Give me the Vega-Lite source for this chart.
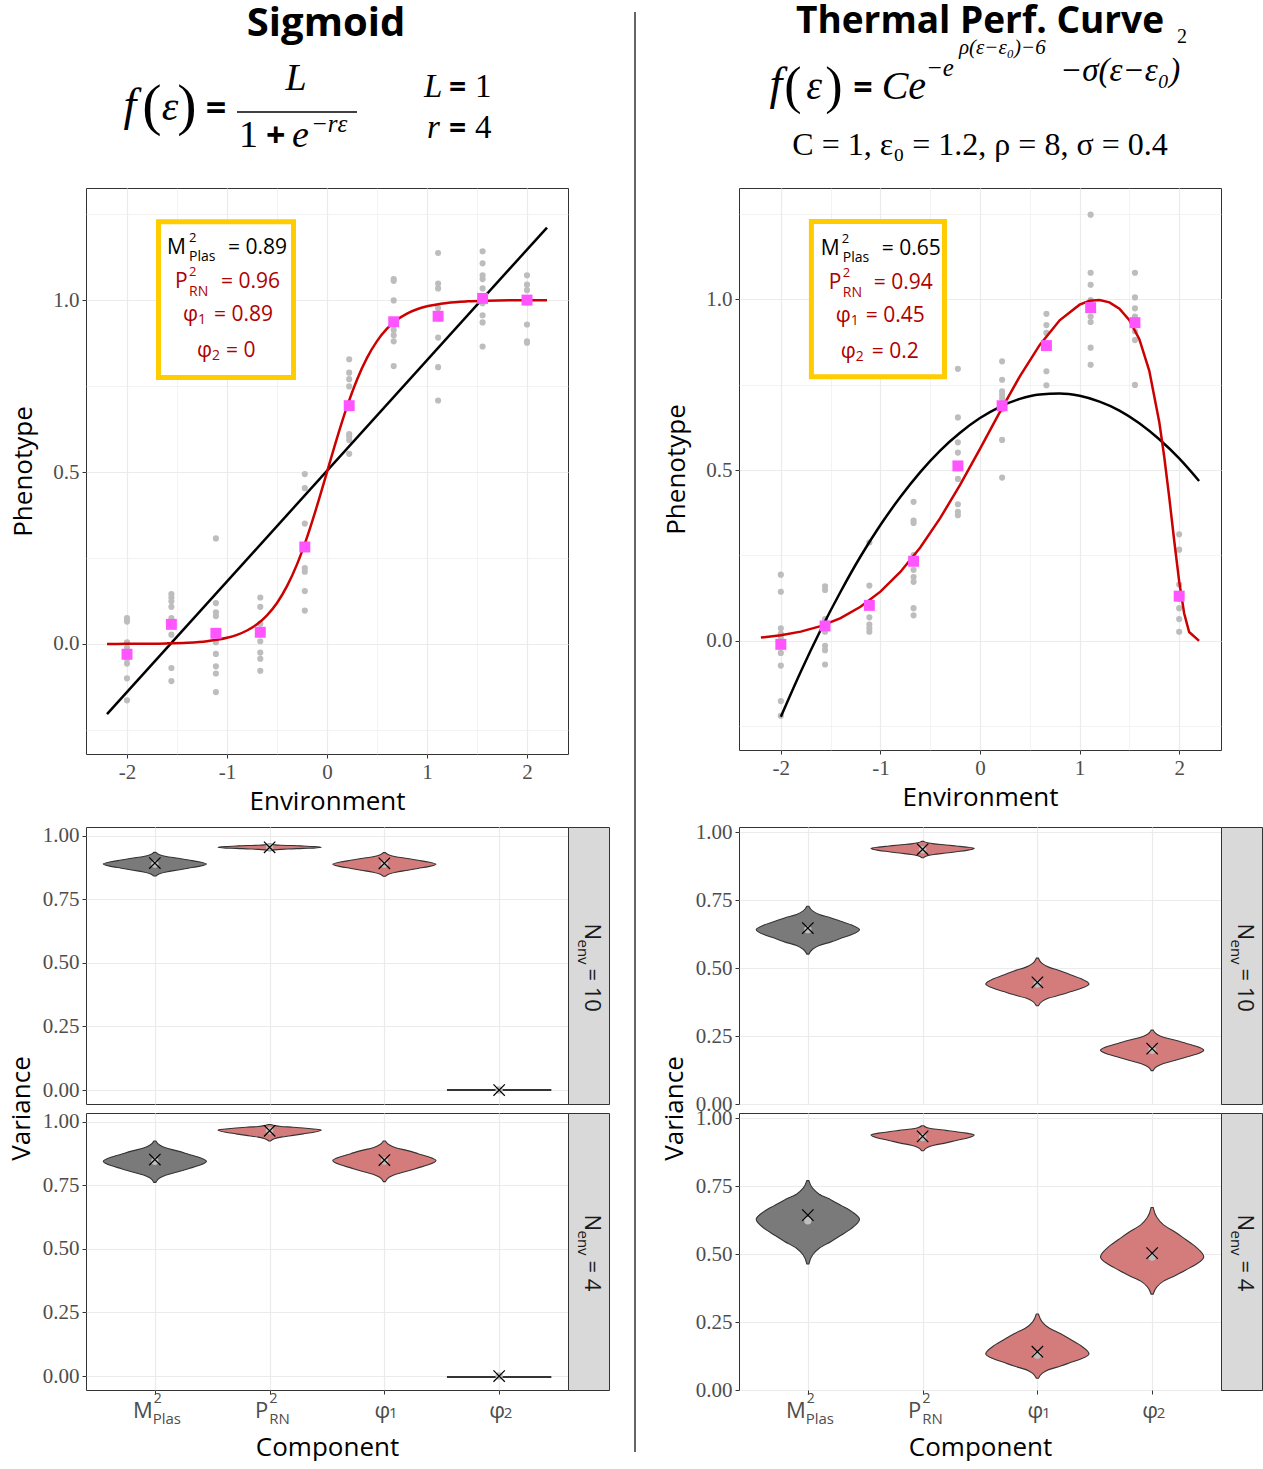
{
"$schema": "https://vega.github.io/schema/vega-lite/v6.json",
"background": "white",
"padding": {"left": 7, "top": 0, "right": 0, "bottom": 0},
"columns": 5,
"spacing": {"row": 9, "column": 0},
"bounds": "flush",
"align": "each",
"config": {
  "view": {"stroke": null},
  "axis": {"domain": false, "gridColor": "#EBEBEB", "tickColor": "#333333", "tickWidth": 1, "tickSize": 4, "labelFont": "Liberation Serif", "labelFontSize": 21, "labelColor": "#4D4D4D", "labelPadding": 3, "labelFlush": false, "labelOverlap": false, "titleFont": "Open Sans", "titleFontSize": 26, "titleFontWeight": "normal", "titleColor": "#000000"},
  "text": {"font": "Open Sans", "baseline": "alphabetic"}
},
"datasets": {
  "sigPts": [
    {"e":-2,"v":0.075},{"e":-2,"v":0.065},{"e":-2,"v":0.005},{"e":-2,"v":-0.011},{"e":-2,"v":-0.043},{"e":-2,"v":-0.057},{"e":-2,"v":-0.1},{"e":-2,"v":-0.164},
    {"e":-1.556,"v":0.145},{"e":-1.556,"v":0.135},{"e":-1.556,"v":0.124},{"e":-1.556,"v":0.108},{"e":-1.556,"v":0.075},{"e":-1.556,"v":0.054},{"e":-1.556,"v":0.027},{"e":-1.556,"v":-0.07},{"e":-1.556,"v":-0.108},
    {"e":-1.111,"v":0.307},{"e":-1.111,"v":0.119},{"e":-1.111,"v":0.092},{"e":-1.111,"v":0.081},{"e":-1.111,"v":0.005},{"e":-1.111,"v":-0.029},{"e":-1.111,"v":-0.065},{"e":-1.111,"v":-0.086},{"e":-1.111,"v":-0.14},
    {"e":-0.667,"v":0.135},{"e":-0.667,"v":0.108},{"e":-0.667,"v":0.059},{"e":-0.667,"v":0.029},{"e":-0.667,"v":0.008},{"e":-0.667,"v":-0.025},{"e":-0.667,"v":-0.043},{"e":-0.667,"v":-0.078},
    {"e":-0.222,"v":0.494},{"e":-0.222,"v":0.453},{"e":-0.222,"v":0.35},{"e":-0.222,"v":0.28},{"e":-0.222,"v":0.221},{"e":-0.222,"v":0.21},{"e":-0.222,"v":0.154},{"e":-0.222,"v":0.097},
    {"e":0.222,"v":0.828},{"e":0.222,"v":0.789},{"e":0.222,"v":0.77},{"e":0.222,"v":0.749},{"e":0.222,"v":0.61},{"e":0.222,"v":0.603},{"e":0.222,"v":0.593},{"e":0.222,"v":0.553},
    {"e":0.667,"v":1.061},{"e":0.667,"v":1.056},{"e":0.667,"v":0.999},{"e":0.667,"v":0.927},{"e":0.667,"v":0.913},{"e":0.667,"v":0.898},{"e":0.667,"v":0.88},{"e":0.667,"v":0.808},
    {"e":1.111,"v":1.137},{"e":1.111,"v":1.048},{"e":1.111,"v":1.034},{"e":1.111,"v":0.977},{"e":1.111,"v":0.891},{"e":1.111,"v":0.805},{"e":1.111,"v":0.708},
    {"e":1.556,"v":1.142},{"e":1.556,"v":1.107},{"e":1.556,"v":1.072},{"e":1.556,"v":1.061},{"e":1.556,"v":1.034},{"e":1.556,"v":0.991},{"e":1.556,"v":0.956},{"e":1.556,"v":0.935},{"e":1.556,"v":0.865},
    {"e":2,"v":1.072},{"e":2,"v":1.045},{"e":2,"v":1.029},{"e":2,"v":0.999},{"e":2,"v":0.929},{"e":2,"v":0.88},{"e":2,"v":0.876}
  ],
  "sigMean": [
    {"e":-2,"v":-0.03},{"e":-1.556,"v":0.057},{"e":-1.111,"v":0.031},{"e":-0.667,"v":0.034},{"e":-0.222,"v":0.282},{"e":0.222,"v":0.693},{"e":0.667,"v":0.937},{"e":1.111,"v":0.953},{"e":1.556,"v":1.005},{"e":2,"v":1.0}
  ],
  "sigCurve": [
    {"e":-2.2,"v":0.0002},{"e":-2.0,"v":0.0003},{"e":-1.6,"v":0.0017},{"e":-1.4,"v":0.0037},{"e":-1.2,"v":0.0082},{"e":-1.0,"v":0.018},{"e":-0.9,"v":0.0266},{"e":-0.8,"v":0.0392},{"e":-0.7,"v":0.0573},{"e":-0.6,"v":0.0832},{"e":-0.5,"v":0.1192},{"e":-0.4,"v":0.168},{"e":-0.3,"v":0.2315},{"e":-0.2,"v":0.31},{"e":-0.1,"v":0.4013},{"e":0,"v":0.5},{"e":0.1,"v":0.5987},{"e":0.2,"v":0.69},{"e":0.3,"v":0.7685},{"e":0.4,"v":0.832},{"e":0.5,"v":0.8808},{"e":0.6,"v":0.9168},{"e":0.7,"v":0.9427},{"e":0.8,"v":0.9608},{"e":0.9,"v":0.9734},{"e":1.0,"v":0.982},{"e":1.2,"v":0.9918},{"e":1.4,"v":0.9963},{"e":1.6,"v":0.9983},{"e":2.0,"v":0.9997},{"e":2.2,"v":0.9998}
  ],
  "sigLin": [{"e":-2.2,"v":-0.204},{"e":2.2,"v":1.211}],
  "tpcPts": [
    {"e":-2,"v":0.194},{"e":-2,"v":0.144},{"e":-2,"v":0.037},{"e":-2,"v":0.021},{"e":-2,"v":0.011},{"e":-2,"v":-0.035},{"e":-2,"v":-0.072},{"e":-2,"v":-0.176},{"e":-2,"v":-0.219},
    {"e":-1.556,"v":0.16},{"e":-1.556,"v":0.149},{"e":-1.556,"v":0.064},{"e":-1.556,"v":0.048},{"e":-1.556,"v":0.027},{"e":-1.556,"v":-0.014},{"e":-1.556,"v":-0.027},{"e":-1.556,"v":-0.069},
    {"e":-1.111,"v":0.288},{"e":-1.111,"v":0.162},{"e":-1.111,"v":0.101},{"e":-1.111,"v":0.069},{"e":-1.111,"v":0.048},{"e":-1.111,"v":0.037},{"e":-1.111,"v":0.027},
    {"e":-0.667,"v":0.407},{"e":-0.667,"v":0.352},{"e":-0.667,"v":0.345},{"e":-0.667,"v":0.251},{"e":-0.667,"v":0.208},{"e":-0.667,"v":0.187},{"e":-0.667,"v":0.173},{"e":-0.667,"v":0.096},{"e":-0.667,"v":0.075},
    {"e":-0.222,"v":0.796},{"e":-0.222,"v":0.654},{"e":-0.222,"v":0.581},{"e":-0.222,"v":0.551},{"e":-0.222,"v":0.474},{"e":-0.222,"v":0.4},{"e":-0.222,"v":0.378},{"e":-0.222,"v":0.368},
    {"e":0.222,"v":0.818},{"e":0.222,"v":0.764},{"e":0.222,"v":0.73},{"e":0.222,"v":0.72},{"e":0.222,"v":0.709},{"e":0.222,"v":0.677},{"e":0.222,"v":0.588},{"e":0.222,"v":0.478},
    {"e":0.667,"v":0.957},{"e":0.667,"v":0.924},{"e":0.667,"v":0.901},{"e":0.667,"v":0.869},{"e":0.667,"v":0.789},{"e":0.667,"v":0.748},
    {"e":1.111,"v":1.247},{"e":1.111,"v":1.077},{"e":1.111,"v":1.042},{"e":1.111,"v":0.997},{"e":1.111,"v":0.949},{"e":1.111,"v":0.933},{"e":1.111,"v":0.858},{"e":1.111,"v":0.808},
    {"e":1.556,"v":1.077},{"e":1.556,"v":1.005},{"e":1.556,"v":0.973},{"e":1.556,"v":0.949},{"e":1.556,"v":0.906},{"e":1.556,"v":0.88},{"e":1.556,"v":0.749},
    {"e":2,"v":0.312},{"e":2,"v":0.267},{"e":2,"v":0.165},{"e":2,"v":0.123},{"e":2,"v":0.096},{"e":2,"v":0.064},{"e":2,"v":0.027}
  ],
  "tpcMean": [
    {"e":-2,"v":-0.01},{"e":-1.556,"v":0.044},{"e":-1.111,"v":0.104},{"e":-0.667,"v":0.233},{"e":-0.222,"v":0.512},{"e":0.222,"v":0.688},{"e":0.667,"v":0.864},{"e":1.111,"v":0.975},{"e":1.556,"v":0.931},{"e":2,"v":0.131}
  ],
  "tpcCurve": [
    {"e":-2.2,"v":0.0098},{"e":-2.0,"v":0.0166},{"e":-1.8,"v":0.0273},{"e":-1.6,"v":0.0435},{"e":-1.4,"v":0.0669},{"e":-1.2,"v":0.0999},{"e":-1.0,"v":0.1443},{"e":-0.8,"v":0.2019},{"e":-0.6,"v":0.2736},{"e":-0.4,"v":0.3592},{"e":-0.2,"v":0.4566},{"e":0,"v":0.5621},{"e":0.2,"v":0.6703},{"e":0.4,"v":0.7741},{"e":0.6,"v":0.8659},{"e":0.8,"v":0.938},{"e":1.0,"v":0.9836},{"e":1.1,"v":0.9949},{"e":1.2,"v":0.9975},{"e":1.3,"v":0.9905},{"e":1.4,"v":0.9721},{"e":1.5,"v":0.9386},{"e":1.6,"v":0.8827},{"e":1.7,"v":0.7903},{"e":1.8,"v":0.6407},{"e":1.85,"v":0.5389},{"e":1.9,"v":0.4205},{"e":1.95,"v":0.2938},{"e":2.0,"v":0.1741},{"e":2.05,"v":0.0809},{"e":2.1,"v":0.0261},{"e":2.2,"v":0.0004}
  ],
  "tpcQuad": [
    {"e":-2.0,"v":-0.222},{"e":-1.8,"v":-0.09},{"e":-1.6,"v":0.032},{"e":-1.4,"v":0.144},{"e":-1.2,"v":0.247},{"e":-1.0,"v":0.339},{"e":-0.8,"v":0.421},{"e":-0.6,"v":0.494},{"e":-0.4,"v":0.557},{"e":-0.2,"v":0.609},{"e":0,"v":0.652},{"e":0.2,"v":0.685},{"e":0.4,"v":0.708},{"e":0.6,"v":0.721},{"e":0.8,"v":0.724},{"e":1.0,"v":0.717},{"e":1.2,"v":0.7},{"e":1.4,"v":0.674},{"e":1.6,"v":0.637},{"e":1.8,"v":0.59},{"e":2.0,"v":0.534},{"e":2.2,"v":0.468}
  ],
  "vL10": [
    {"c":"M","y":0.842,"lo":0.991,"hi":1.009},{"c":"M","y":0.851,"lo":0.959,"hi":1.041},{"c":"M","y":0.858,"lo":0.901,"hi":1.099},{"c":"M","y":0.866,"lo":0.797,"hi":1.203},{"c":"M","y":0.873,"lo":0.707,"hi":1.293},{"c":"M","y":0.88,"lo":0.617,"hi":1.383},{"c":"M","y":0.889,"lo":0.55,"hi":1.45},{"c":"M","y":0.898,"lo":0.617,"hi":1.383},{"c":"M","y":0.905,"lo":0.707,"hi":1.293},{"c":"M","y":0.912,"lo":0.797,"hi":1.203},{"c":"M","y":0.919,"lo":0.901,"hi":1.099},{"c":"M","y":0.926,"lo":0.959,"hi":1.041},{"c":"M","y":0.935,"lo":0.991,"hi":1.009},
    {"c":"P","y":0.942,"lo":1.991,"hi":2.009},{"c":"P","y":0.945,"lo":1.959,"hi":2.041},{"c":"P","y":0.947,"lo":1.901,"hi":2.099},{"c":"P","y":0.949,"lo":1.797,"hi":2.203},{"c":"P","y":0.951,"lo":1.707,"hi":2.293},{"c":"P","y":0.952,"lo":1.617,"hi":2.383},{"c":"P","y":0.955,"lo":1.55,"hi":2.45},{"c":"P","y":0.958,"lo":1.617,"hi":2.383},{"c":"P","y":0.96,"lo":1.707,"hi":2.293},{"c":"P","y":0.962,"lo":1.797,"hi":2.203},{"c":"P","y":0.963,"lo":1.901,"hi":2.099},{"c":"P","y":0.965,"lo":1.959,"hi":2.041},{"c":"P","y":0.968,"lo":1.991,"hi":2.009},
    {"c":"φ1","y":0.841,"lo":2.991,"hi":3.009},{"c":"φ1","y":0.85,"lo":2.959,"hi":3.041},{"c":"φ1","y":0.857,"lo":2.901,"hi":3.099},{"c":"φ1","y":0.865,"lo":2.797,"hi":3.203},{"c":"φ1","y":0.872,"lo":2.707,"hi":3.293},{"c":"φ1","y":0.879,"lo":2.617,"hi":3.383},{"c":"φ1","y":0.888,"lo":2.55,"hi":3.45},{"c":"φ1","y":0.897,"lo":2.617,"hi":3.383},{"c":"φ1","y":0.904,"lo":2.707,"hi":3.293},{"c":"φ1","y":0.911,"lo":2.797,"hi":3.203},{"c":"φ1","y":0.918,"lo":2.901,"hi":3.099},{"c":"φ1","y":0.925,"lo":2.959,"hi":3.041},{"c":"φ1","y":0.934,"lo":2.991,"hi":3.009},
    {"c":"φ2","y":-0.0015,"lo":3.55,"hi":4.45},{"c":"φ2","y":0.0015,"lo":3.55,"hi":4.45}
  ],
  "vL4": [
    {"c":"M","y":0.762,"lo":0.991,"hi":1.009},{"c":"M","y":0.779,"lo":0.959,"hi":1.041},{"c":"M","y":0.791,"lo":0.901,"hi":1.099},{"c":"M","y":0.804,"lo":0.797,"hi":1.203},{"c":"M","y":0.816,"lo":0.707,"hi":1.293},{"c":"M","y":0.828,"lo":0.617,"hi":1.383},{"c":"M","y":0.845,"lo":0.55,"hi":1.45},{"c":"M","y":0.861,"lo":0.617,"hi":1.383},{"c":"M","y":0.873,"lo":0.707,"hi":1.293},{"c":"M","y":0.885,"lo":0.797,"hi":1.203},{"c":"M","y":0.897,"lo":0.901,"hi":1.099},{"c":"M","y":0.909,"lo":0.959,"hi":1.041},{"c":"M","y":0.925,"lo":0.991,"hi":1.009},
    {"c":"P","y":0.925,"lo":1.991,"hi":2.009},{"c":"P","y":0.934,"lo":1.959,"hi":2.041},{"c":"P","y":0.94,"lo":1.901,"hi":2.099},{"c":"P","y":0.947,"lo":1.797,"hi":2.203},{"c":"P","y":0.953,"lo":1.707,"hi":2.293},{"c":"P","y":0.959,"lo":1.617,"hi":2.383},{"c":"P","y":0.968,"lo":1.55,"hi":2.45},{"c":"P","y":0.972,"lo":1.617,"hi":2.383},{"c":"P","y":0.976,"lo":1.707,"hi":2.293},{"c":"P","y":0.979,"lo":1.797,"hi":2.203},{"c":"P","y":0.982,"lo":1.901,"hi":2.099},{"c":"P","y":0.986,"lo":1.959,"hi":2.041},{"c":"P","y":0.99,"lo":1.991,"hi":2.009},
    {"c":"φ1","y":0.765,"lo":2.991,"hi":3.009},{"c":"φ1","y":0.782,"lo":2.959,"hi":3.041},{"c":"φ1","y":0.794,"lo":2.901,"hi":3.099},{"c":"φ1","y":0.807,"lo":2.797,"hi":3.203},{"c":"φ1","y":0.819,"lo":2.707,"hi":3.293},{"c":"φ1","y":0.831,"lo":2.617,"hi":3.383},{"c":"φ1","y":0.848,"lo":2.55,"hi":3.45},{"c":"φ1","y":0.863,"lo":2.617,"hi":3.383},{"c":"φ1","y":0.875,"lo":2.707,"hi":3.293},{"c":"φ1","y":0.887,"lo":2.797,"hi":3.203},{"c":"φ1","y":0.898,"lo":2.901,"hi":3.099},{"c":"φ1","y":0.91,"lo":2.959,"hi":3.041},{"c":"φ1","y":0.925,"lo":2.991,"hi":3.009},
    {"c":"φ2","y":-0.0055,"lo":3.55,"hi":4.45},{"c":"φ2","y":-0.0025,"lo":3.55,"hi":4.45}
  ],
  "vR10": [
    {"c":"M","y":0.552,"lo":0.991,"hi":1.009},{"c":"M","y":0.57,"lo":0.959,"hi":1.041},{"c":"M","y":0.584,"lo":0.901,"hi":1.099},{"c":"M","y":0.597,"lo":0.797,"hi":1.203},{"c":"M","y":0.611,"lo":0.707,"hi":1.293},{"c":"M","y":0.624,"lo":0.617,"hi":1.383},{"c":"M","y":0.642,"lo":0.55,"hi":1.45},{"c":"M","y":0.659,"lo":0.617,"hi":1.383},{"c":"M","y":0.672,"lo":0.707,"hi":1.293},{"c":"M","y":0.685,"lo":0.797,"hi":1.203},{"c":"M","y":0.698,"lo":0.901,"hi":1.099},{"c":"M","y":0.711,"lo":0.959,"hi":1.041},{"c":"M","y":0.728,"lo":0.991,"hi":1.009},
    {"c":"P","y":0.907,"lo":1.991,"hi":2.009},{"c":"P","y":0.914,"lo":1.959,"hi":2.041},{"c":"P","y":0.919,"lo":1.901,"hi":2.099},{"c":"P","y":0.924,"lo":1.797,"hi":2.203},{"c":"P","y":0.929,"lo":1.707,"hi":2.293},{"c":"P","y":0.934,"lo":1.617,"hi":2.383},{"c":"P","y":0.941,"lo":1.55,"hi":2.45},{"c":"P","y":0.946,"lo":1.617,"hi":2.383},{"c":"P","y":0.95,"lo":1.707,"hi":2.293},{"c":"P","y":0.954,"lo":1.797,"hi":2.203},{"c":"P","y":0.958,"lo":1.901,"hi":2.099},{"c":"P","y":0.962,"lo":1.959,"hi":2.041},{"c":"P","y":0.967,"lo":1.991,"hi":2.009},
    {"c":"φ1","y":0.362,"lo":2.991,"hi":3.009},{"c":"φ1","y":0.378,"lo":2.959,"hi":3.041},{"c":"φ1","y":0.39,"lo":2.901,"hi":3.099},{"c":"φ1","y":0.402,"lo":2.797,"hi":3.203},{"c":"φ1","y":0.414,"lo":2.707,"hi":3.293},{"c":"φ1","y":0.426,"lo":2.617,"hi":3.383},{"c":"φ1","y":0.442,"lo":2.55,"hi":3.45},{"c":"φ1","y":0.461,"lo":2.617,"hi":3.383},{"c":"φ1","y":0.475,"lo":2.707,"hi":3.293},{"c":"φ1","y":0.49,"lo":2.797,"hi":3.203},{"c":"φ1","y":0.504,"lo":2.901,"hi":3.099},{"c":"φ1","y":0.518,"lo":2.959,"hi":3.041},{"c":"φ1","y":0.537,"lo":2.991,"hi":3.009},
    {"c":"φ2","y":0.123,"lo":3.991,"hi":4.009},{"c":"φ2","y":0.138,"lo":3.959,"hi":4.041},{"c":"φ2","y":0.149,"lo":3.901,"hi":4.099},{"c":"φ2","y":0.161,"lo":3.797,"hi":4.203},{"c":"φ2","y":0.172,"lo":3.707,"hi":4.293},{"c":"φ2","y":0.183,"lo":3.617,"hi":4.383},{"c":"φ2","y":0.198,"lo":3.55,"hi":4.45},{"c":"φ2","y":0.213,"lo":3.617,"hi":4.383},{"c":"φ2","y":0.224,"lo":3.707,"hi":4.293},{"c":"φ2","y":0.235,"lo":3.797,"hi":4.203},{"c":"φ2","y":0.246,"lo":3.901,"hi":4.099},{"c":"φ2","y":0.257,"lo":3.959,"hi":4.041},{"c":"φ2","y":0.272,"lo":3.991,"hi":4.009}
  ],
  "vR4": [
    {"c":"M","y":0.464,"lo":0.991,"hi":1.009},{"c":"M","y":0.497,"lo":0.959,"hi":1.041},{"c":"M","y":0.522,"lo":0.901,"hi":1.099},{"c":"M","y":0.547,"lo":0.797,"hi":1.203},{"c":"M","y":0.571,"lo":0.707,"hi":1.293},{"c":"M","y":0.596,"lo":0.617,"hi":1.383},{"c":"M","y":0.629,"lo":0.55,"hi":1.45},{"c":"M","y":0.657,"lo":0.617,"hi":1.383},{"c":"M","y":0.679,"lo":0.707,"hi":1.293},{"c":"M","y":0.7,"lo":0.797,"hi":1.203},{"c":"M","y":0.721,"lo":0.901,"hi":1.099},{"c":"M","y":0.743,"lo":0.959,"hi":1.041},{"c":"M","y":0.771,"lo":0.991,"hi":1.009},
    {"c":"P","y":0.881,"lo":1.991,"hi":2.009},{"c":"P","y":0.893,"lo":1.959,"hi":2.041},{"c":"P","y":0.901,"lo":1.901,"hi":2.099},{"c":"P","y":0.91,"lo":1.797,"hi":2.203},{"c":"P","y":0.919,"lo":1.707,"hi":2.293},{"c":"P","y":0.927,"lo":1.617,"hi":2.383},{"c":"P","y":0.939,"lo":1.55,"hi":2.45},{"c":"P","y":0.946,"lo":1.617,"hi":2.383},{"c":"P","y":0.951,"lo":1.707,"hi":2.293},{"c":"P","y":0.956,"lo":1.797,"hi":2.203},{"c":"P","y":0.961,"lo":1.901,"hi":2.099},{"c":"P","y":0.966,"lo":1.959,"hi":2.041},{"c":"P","y":0.973,"lo":1.991,"hi":2.009},
    {"c":"φ1","y":0.043,"lo":2.991,"hi":3.009},{"c":"φ1","y":0.061,"lo":2.959,"hi":3.041},{"c":"φ1","y":0.075,"lo":2.901,"hi":3.099},{"c":"φ1","y":0.088,"lo":2.797,"hi":3.203},{"c":"φ1","y":0.102,"lo":2.707,"hi":3.293},{"c":"φ1","y":0.115,"lo":2.617,"hi":3.383},{"c":"φ1","y":0.133,"lo":2.55,"hi":3.45},{"c":"φ1","y":0.162,"lo":2.617,"hi":3.383},{"c":"φ1","y":0.185,"lo":2.707,"hi":3.293},{"c":"φ1","y":0.207,"lo":2.797,"hi":3.203},{"c":"φ1","y":0.229,"lo":2.901,"hi":3.099},{"c":"φ1","y":0.251,"lo":2.959,"hi":3.041},{"c":"φ1","y":0.28,"lo":2.991,"hi":3.009},
    {"c":"φ2","y":0.353,"lo":3.991,"hi":4.009},{"c":"φ2","y":0.38,"lo":3.959,"hi":4.041},{"c":"φ2","y":0.401,"lo":3.901,"hi":4.099},{"c":"φ2","y":0.422,"lo":3.797,"hi":4.203},{"c":"φ2","y":0.442,"lo":3.707,"hi":4.293},{"c":"φ2","y":0.463,"lo":3.617,"hi":4.383},{"c":"φ2","y":0.49,"lo":3.55,"hi":4.45},{"c":"φ2","y":0.526,"lo":3.617,"hi":4.383},{"c":"φ2","y":0.554,"lo":3.707,"hi":4.293},{"c":"φ2","y":0.581,"lo":3.797,"hi":4.203},{"c":"φ2","y":0.608,"lo":3.901,"hi":4.099},{"c":"φ2","y":0.636,"lo":3.959,"hi":4.041},{"c":"φ2","y":0.672,"lo":3.991,"hi":4.009}
  ],
  "mL10": [{"i":1,"mean":0.893,"med":0.889},{"i":2,"mean":0.955,"med":0.955},{"i":3,"mean":0.892,"med":0.889},{"i":4,"mean":0,"med":0}],
  "mL4": [{"i":1,"mean":0.852,"med":0.845},{"i":2,"mean":0.965,"med":0.966},{"i":3,"mean":0.85,"med":0.846},{"i":4,"mean":0,"med":0}],
  "mR10": [{"i":1,"mean":0.648,"med":0.642},{"i":2,"mean":0.938,"med":0.936},{"i":3,"mean":0.448,"med":0.442},{"i":4,"mean":0.204,"med":0.198}],
  "mR4": [{"i":1,"mean":0.644,"med":0.623},{"i":2,"mean":0.934,"med":0.93},{"i":3,"mean":0.141,"med":0.129},{"i":4,"mean":0.504,"med":0.49}]
},
"concat": [
  {"width": 482, "height": 179, "data": {"values": [{}]}, "layer": [
    {"mark": {"type": "rule", "color": "black", "strokeWidth": 1.6}, "encoding": {"x": {"datum": 151, "type": "quantitative", "scale": {"domain": [0, 482], "nice": false, "zero": false}, "axis": null}, "x2": {"datum": 271}, "y": {"datum": 112, "type": "quantitative", "scale": {"domain": [0, 179], "reverse": true, "nice": false, "zero": false}, "axis": null}}},
    {"mark": {"type": "text", "text": "Sigmoid", "font": "Open Sans", "fontWeight": "bold", "fontSize": 40, "align": "center", "baseline": "top", "dx": -1, "dy": -85.5}},
    {"mark": {"type": "text", "text": "f", "font": "Liberation Serif", "fontStyle": "italic", "fontSize": 46, "align": "center", "dx": -197, "dy": 30}},
    {"mark": {"type": "text", "text": "(", "font": "Liberation Serif", "fontSize": 58, "align": "center", "dx": -175, "dy": 34}},
    {"mark": {"type": "text", "text": "ε", "font": "Liberation Serif", "fontStyle": "italic", "fontSize": 42, "align": "center", "dx": -157, "dy": 30}},
    {"mark": {"type": "text", "text": ")", "font": "Liberation Serif", "fontSize": 58, "align": "center", "dx": -140, "dy": 34}},
    {"mark": {"type": "text", "text": "=", "font": "Open Sans", "fontWeight": "bold", "fontSize": 36, "align": "center", "dx": -111, "dy": 30}},
    {"mark": {"type": "text", "text": "L", "font": "Liberation Serif", "fontStyle": "italic", "fontSize": 38, "align": "center", "dx": -31, "dy": 0}},
    {"mark": {"type": "text", "text": "1", "font": "Liberation Serif", "fontSize": 38, "align": "left", "dx": -88, "dy": 57}},
    {"mark": {"type": "text", "text": "+", "font": "Open Sans", "fontWeight": "bold", "fontSize": 34, "align": "left", "dx": -61, "dy": 57}},
    {"mark": {"type": "text", "text": "e", "font": "Liberation Serif", "fontStyle": "italic", "fontSize": 38, "align": "left", "dx": -35, "dy": 57}},
    {"mark": {"type": "text", "text": "−rε", "font": "Liberation Serif", "fontStyle": "italic", "fontSize": 25, "align": "left", "dx": -16, "dy": 42}},
    {"mark": {"type": "text", "text": "L", "font": "Liberation Serif", "fontStyle": "italic", "fontSize": 33, "align": "left", "dx": 97, "dy": 7}},
    {"mark": {"type": "text", "text": "=", "font": "Open Sans", "fontWeight": "bold", "fontSize": 30, "align": "left", "dx": 122, "dy": 7}},
    {"mark": {"type": "text", "text": "1", "font": "Liberation Serif", "fontSize": 33, "align": "left", "dx": 148, "dy": 7}},
    {"mark": {"type": "text", "text": "r", "font": "Liberation Serif", "fontStyle": "italic", "fontSize": 33, "align": "left", "dx": 100, "dy": 48}},
    {"mark": {"type": "text", "text": "=", "font": "Open Sans", "fontWeight": "bold", "fontSize": 30, "align": "left", "dx": 122, "dy": 48}},
    {"mark": {"type": "text", "text": "4", "font": "Liberation Serif", "fontSize": 33, "align": "left", "dx": 148, "dy": 48}}
  ]},
  {"width": 1, "height": 1, "data": {"values": [{}]}, "mark": {"type": "point", "opacity": 0, "size": 0, "filled": true, "strokeWidth": 0}},
  {"width": 130, "height": 179, "data": {"values": [{}]}, "mark": {"type": "rule", "color": "#333333", "strokeWidth": 1.5}, "encoding": {"x": {"datum": 26, "type": "quantitative", "scale": {"domain": [0, 130], "nice": false, "zero": false}, "axis": null}, "y": {"datum": 12, "type": "quantitative", "scale": {"domain": [0, 179], "reverse": true, "nice": false, "zero": false}, "axis": null}, "y2": {"datum": 1452}}},
  {"width": 482, "height": 179, "data": {"values": [{}]}, "layer": [
    {"mark": {"type": "text", "text": "Thermal Perf. Curve", "font": "Open Sans", "fontWeight": "bold", "fontSize": 37, "align": "center", "baseline": "top", "dx": 0, "dy": -85.5}},
    {"mark": {"type": "text", "text": "f", "font": "Liberation Serif", "fontStyle": "italic", "fontSize": 46, "align": "center", "dx": -204, "dy": 9}},
    {"mark": {"type": "text", "text": "(", "font": "Liberation Serif", "fontSize": 52, "align": "center", "dx": -187, "dy": 13}},
    {"mark": {"type": "text", "text": "ε", "font": "Liberation Serif", "fontStyle": "italic", "fontSize": 40, "align": "center", "dx": -166, "dy": 9}},
    {"mark": {"type": "text", "text": ")", "font": "Liberation Serif", "fontSize": 52, "align": "center", "dx": -146, "dy": 13}},
    {"mark": {"type": "text", "text": "=", "font": "Open Sans", "fontWeight": "bold", "fontSize": 34, "align": "center", "dx": -117, "dy": 9}},
    {"mark": {"type": "text", "text": "C", "font": "Liberation Serif", "fontStyle": "italic", "fontSize": 40, "align": "center", "dx": -85, "dy": 9}},
    {"mark": {"type": "text", "text": "e", "font": "Liberation Serif", "fontStyle": "italic", "fontSize": 40, "align": "center", "dx": -63, "dy": 9}},
    {"mark": {"type": "text", "text": "−e", "font": "Liberation Serif", "fontStyle": "italic", "fontSize": 25, "align": "left", "dx": -54, "dy": -14}},
    {"mark": {"type": "text", "text": "ρ(ε−ε₀)−6", "font": "Liberation Serif", "fontStyle": "italic", "fontSize": 21, "align": "left", "dx": -21, "dy": -36}},
    {"mark": {"type": "text", "text": "−σ(ε−ε₀)", "font": "Liberation Serif", "fontStyle": "italic", "fontSize": 33, "align": "left", "dx": 80, "dy": -9}},
    {"mark": {"type": "text", "text": "2", "font": "Liberation Serif", "fontSize": 20, "align": "left", "dx": 197, "dy": -47}},
    {"mark": {"type": "text", "text": "C = 1, ε₀ = 1.2, ρ = 8, σ = 0.4", "font": "Liberation Serif", "fontSize": 32, "align": "center", "dx": 0, "dy": 65}}
  ]},
  {"width": 1, "height": 1, "data": {"values": [{}]}, "mark": {"type": "point", "opacity": 0, "size": 0, "filled": true, "strokeWidth": 0}},

  {"width": 482, "height": 566, "view": {"stroke": "#333333"}, "layer": [
    {"data": {"name": "sigPts"}, "mark": {"type": "circle", "color": "#BDBDBD", "size": 38, "opacity": 1},
     "encoding": {
       "x": {"field": "e", "type": "quantitative", "scale": {"domain": [-2.41, 2.41], "nice": false, "zero": false}, "axis": {"values": [-2,-1.5,-1,-0.5,0,0.5,1,1.5,2], "labelExpr": "datum.value % 1 === 0 ? '' + datum.value : ''", "tickOpacity": {"condition": {"test": "datum.value % 1 !== 0", "value": 0}, "value": 1}, "gridWidth": {"condition": {"test": "datum.value % 1 !== 0", "value": 0.6}, "value": 1.2}, "title": "Environment", "titlePadding": 6}},
       "y": {"field": "v", "type": "quantitative", "scale": {"domain": [-0.32, 1.326], "nice": false, "zero": false}, "axis": {"values": [-0.25,0,0.25,0.5,0.75,1,1.25], "labelExpr": "datum.value * 2 % 1 === 0 ? format(datum.value, '.1f') : ''", "tickOpacity": {"condition": {"test": "datum.value * 2 % 1 !== 0", "value": 0}, "value": 1}, "gridWidth": {"condition": {"test": "datum.value * 2 % 1 !== 0", "value": 0.6}, "value": 1.2}, "title": "Phenotype", "titlePadding": 16}}
     }},
    {"data": {"name": "sigLin"}, "mark": {"type": "line", "color": "black", "strokeWidth": 2.5}, "encoding": {"x": {"field": "e", "type": "quantitative"}, "y": {"field": "v", "type": "quantitative"}}},
    {"data": {"name": "sigCurve"}, "mark": {"type": "line", "color": "#CC0000", "strokeWidth": 2.5, "interpolate": "monotone"}, "encoding": {"x": {"field": "e", "type": "quantitative"}, "y": {"field": "v", "type": "quantitative"}}},
    {"data": {"name": "sigMean"}, "mark": {"type": "square", "color": "#FF55FF", "size": 120, "opacity": 1}, "encoding": {"x": {"field": "e", "type": "quantitative"}, "y": {"field": "v", "type": "quantitative"}}},
    {"data": {"values": [{}]}, "mark": {"type": "rect", "fill": "white", "stroke": "#FFCC00", "strokeWidth": 5}, "encoding": {"x": {"datum": -1.685, "type": "quantitative"}, "x2": {"datum": -0.335}, "y": {"datum": 1.228, "type": "quantitative"}, "y2": {"datum": 0.775}}},
    {"data": {"values": [{}]}, "encoding": {"x": {"datum": -1.6, "type": "quantitative"}, "y": {"datum": 1.134, "type": "quantitative"}}, "layer": [
      {"mark": {"type": "text", "text": "M", "align": "left", "fontSize": 21, "color": "black", "dx": 0, "dy": 0}},
      {"mark": {"type": "text", "text": "2", "align": "left", "fontSize": 13, "color": "black", "dx": 22, "dy": -12}},
      {"mark": {"type": "text", "text": "Plas", "align": "left", "fontSize": 14, "color": "black", "dx": 22, "dy": 7}},
      {"mark": {"type": "text", "text": "= 0.89", "align": "left", "fontSize": 21, "color": "black", "dx": 61, "dy": 0}},
      {"mark": {"type": "text", "text": "P", "align": "left", "fontSize": 21, "color": "#B00000", "dx": 8, "dy": 34}},
      {"mark": {"type": "text", "text": "2", "align": "left", "fontSize": 13, "color": "#B00000", "dx": 22, "dy": 22}},
      {"mark": {"type": "text", "text": "RN", "align": "left", "fontSize": 14, "color": "#B00000", "dx": 22, "dy": 42}},
      {"mark": {"type": "text", "text": "= 0.96", "align": "left", "fontSize": 21, "color": "#B00000", "dx": 54, "dy": 34}},
      {"mark": {"type": "text", "text": "φ", "align": "left", "fontSize": 21, "color": "#B00000", "dx": 16, "dy": 67}},
      {"mark": {"type": "text", "text": "1", "align": "left", "fontSize": 14, "color": "#B00000", "dx": 31, "dy": 70}},
      {"mark": {"type": "text", "text": "= 0.89", "align": "left", "fontSize": 21, "color": "#B00000", "dx": 47, "dy": 67}},
      {"mark": {"type": "text", "text": "φ", "align": "left", "fontSize": 21, "color": "#B00000", "dx": 30, "dy": 103}},
      {"mark": {"type": "text", "text": "2", "align": "left", "fontSize": 14, "color": "#B00000", "dx": 45, "dy": 106}},
      {"mark": {"type": "text", "text": "= 0", "align": "left", "fontSize": 21, "color": "#B00000", "dx": 59, "dy": 103}}
    ]}
  ]},
  {"width": 1, "height": 1, "data": {"values": [{}]}, "mark": {"type": "point", "opacity": 0, "size": 0, "filled": true, "strokeWidth": 0}},
  {"width": 1, "height": 1, "data": {"values": [{}]}, "mark": {"type": "point", "opacity": 0, "size": 0, "filled": true, "strokeWidth": 0}},
  {"width": 482, "height": 562, "view": {"stroke": "#333333"}, "layer": [
    {"data": {"name": "tpcPts"}, "mark": {"type": "circle", "color": "#BDBDBD", "size": 38, "opacity": 1},
     "encoding": {
       "x": {"field": "e", "type": "quantitative", "scale": {"domain": [-2.42, 2.42], "nice": false, "zero": false}, "axis": {"values": [-2,-1.5,-1,-0.5,0,0.5,1,1.5,2], "labelExpr": "datum.value % 1 === 0 ? '' + datum.value : ''", "tickOpacity": {"condition": {"test": "datum.value % 1 !== 0", "value": 0}, "value": 1}, "gridWidth": {"condition": {"test": "datum.value % 1 !== 0", "value": 0.6}, "value": 1.2}, "title": "Environment", "titlePadding": 6}},
       "y": {"field": "v", "type": "quantitative", "scale": {"domain": [-0.319, 1.325], "nice": false, "zero": false}, "axis": {"values": [-0.25,0,0.25,0.5,0.75,1,1.25], "labelExpr": "datum.value * 2 % 1 === 0 ? format(datum.value, '.1f') : ''", "tickOpacity": {"condition": {"test": "datum.value * 2 % 1 !== 0", "value": 0}, "value": 1}, "gridWidth": {"condition": {"test": "datum.value * 2 % 1 !== 0", "value": 0.6}, "value": 1.2}, "title": "Phenotype", "titlePadding": 16}}
     }},
    {"data": {"name": "tpcQuad"}, "mark": {"type": "line", "color": "black", "strokeWidth": 2.5, "interpolate": "monotone"}, "encoding": {"x": {"field": "e", "type": "quantitative"}, "y": {"field": "v", "type": "quantitative"}}},
    {"data": {"name": "tpcCurve"}, "mark": {"type": "line", "color": "#CC0000", "strokeWidth": 2.5}, "encoding": {"x": {"field": "e", "type": "quantitative"}, "y": {"field": "v", "type": "quantitative"}}},
    {"data": {"name": "tpcMean"}, "mark": {"type": "square", "color": "#FF55FF", "size": 120, "opacity": 1}, "encoding": {"x": {"field": "e", "type": "quantitative"}, "y": {"field": "v", "type": "quantitative"}}},
    {"data": {"values": [{}]}, "mark": {"type": "rect", "fill": "white", "stroke": "#FFCC00", "strokeWidth": 5}, "encoding": {"x": {"datum": -1.693, "type": "quantitative"}, "x2": {"datum": -0.357}, "y": {"datum": 1.227, "type": "quantitative"}, "y2": {"datum": 0.773}}},
    {"data": {"values": [{}]}, "encoding": {"x": {"datum": -1.598, "type": "quantitative"}, "y": {"datum": 1.129, "type": "quantitative"}}, "layer": [
      {"mark": {"type": "text", "text": "M", "align": "left", "fontSize": 21, "color": "black", "dx": 0, "dy": 0}},
      {"mark": {"type": "text", "text": "2", "align": "left", "fontSize": 13, "color": "black", "dx": 21, "dy": -12}},
      {"mark": {"type": "text", "text": "Plas", "align": "left", "fontSize": 14, "color": "black", "dx": 22, "dy": 7}},
      {"mark": {"type": "text", "text": "= 0.65", "align": "left", "fontSize": 21, "color": "black", "dx": 61, "dy": 0}},
      {"mark": {"type": "text", "text": "P", "align": "left", "fontSize": 21, "color": "#B00000", "dx": 8, "dy": 34}},
      {"mark": {"type": "text", "text": "2", "align": "left", "fontSize": 13, "color": "#B00000", "dx": 22, "dy": 22}},
      {"mark": {"type": "text", "text": "RN", "align": "left", "fontSize": 14, "color": "#B00000", "dx": 22, "dy": 42}},
      {"mark": {"type": "text", "text": "= 0.94", "align": "left", "fontSize": 21, "color": "#B00000", "dx": 53, "dy": 34}},
      {"mark": {"type": "text", "text": "φ", "align": "left", "fontSize": 21, "color": "#B00000", "dx": 15, "dy": 67}},
      {"mark": {"type": "text", "text": "1", "align": "left", "fontSize": 14, "color": "#B00000", "dx": 30, "dy": 70}},
      {"mark": {"type": "text", "text": "= 0.45", "align": "left", "fontSize": 21, "color": "#B00000", "dx": 45, "dy": 67}},
      {"mark": {"type": "text", "text": "φ", "align": "left", "fontSize": 21, "color": "#B00000", "dx": 20, "dy": 103}},
      {"mark": {"type": "text", "text": "2", "align": "left", "fontSize": 14, "color": "#B00000", "dx": 35, "dy": 106}},
      {"mark": {"type": "text", "text": "= 0.2", "align": "left", "fontSize": 21, "color": "#B00000", "dx": 51, "dy": 103}}
    ]}
  ]},
  {"width": 1, "height": 1, "data": {"values": [{}]}, "mark": {"type": "point", "opacity": 0, "size": 0, "filled": true, "strokeWidth": 0}},

  {"width": 1, "height": 55, "data": {"values": [{}]}, "mark": {"type": "point", "opacity": 0, "size": 0, "filled": true, "strokeWidth": 0}},
  {"width": 1, "height": 1, "data": {"values": [{}]}, "mark": {"type": "point", "opacity": 0, "size": 0, "filled": true, "strokeWidth": 0}},
  {"width": 1, "height": 1, "data": {"values": [{}]}, "mark": {"type": "point", "opacity": 0, "size": 0, "filled": true, "strokeWidth": 0}},
  {"width": 1, "height": 1, "data": {"values": [{}]}, "mark": {"type": "point", "opacity": 0, "size": 0, "filled": true, "strokeWidth": 0}},
  {"width": 1, "height": 1, "data": {"values": [{}]}, "mark": {"type": "point", "opacity": 0, "size": 0, "filled": true, "strokeWidth": 0}},

  {"width": 482, "height": 277, "view": {"stroke": "#333333"}, "layer": [
    {"data": {"name": "vL10"}, "mark": {"type": "area", "orient": "horizontal", "interpolate": "monotone", "stroke": "#333333", "strokeWidth": 1.1, "opacity": 1},
     "encoding": {
       "y": {"field": "y", "type": "quantitative", "scale": {"domain": [-0.055, 1.035], "nice": false, "zero": false}, "axis": {"values": [0,0.125,0.25,0.375,0.5,0.625,0.75,0.875,1], "labelExpr": "datum.value * 4 % 1 === 0 ? format(datum.value, '.2f') : ''", "tickOpacity": {"condition": {"test": "datum.value * 4 % 1 !== 0", "value": 0}, "value": 1}, "gridWidth": {"condition": {"test": "datum.value * 4 % 1 !== 0", "value": 0.6}, "value": 1.2}, "title": "Variance", "titleY": 281, "titlePadding": 8}},
       "x": {"field": "lo", "type": "quantitative", "stack": null, "scale": {"domain": [0.4, 4.6], "nice": false, "zero": false}, "axis": {"values": [1,2,3,4], "labels": false, "ticks": false, "title": null, "gridWidth": 1.2}},
       "x2": {"field": "hi"},
       "color": {"field": "c", "type": "nominal", "scale": {"domain": ["M","P","φ1","φ2"], "range": ["#7A7A7A","#D47B7B","#D47B7B","#D47B7B"]}, "legend": null}
     }},
    {"data": {"name": "mL10"}, "mark": {"type": "circle", "color": "#BEBEBE", "size": 55, "opacity": 1}, "encoding": {"x": {"field": "i", "type": "quantitative"}, "y": {"field": "med", "type": "quantitative"}}},
    {"data": {"name": "mL10"}, "mark": {"type": "point", "shape": "M-1,-1L1,1M-1,1L1,-1", "filled": false, "stroke": "black", "strokeWidth": 1.2, "size": 130, "opacity": 1}, "encoding": {"x": {"field": "i", "type": "quantitative"}, "y": {"field": "mean", "type": "quantitative"}}}
  ]},
  {"width": 41, "height": 277, "view": {"fill": "#D9D9D9", "stroke": "#333333"}, "data": {"values": [{}]}, "layer": [
    {"mark": {"type": "text", "text": "N", "angle": 90, "align": "left", "baseline": "middle", "fontSize": 22, "color": "#1A1A1A", "dx": -42, "dy": -3}},
    {"mark": {"type": "text", "text": "env", "angle": 90, "align": "left", "baseline": "middle", "fontSize": 15, "color": "#1A1A1A", "dx": -26, "dy": 6}},
    {"mark": {"type": "text", "text": "= 10", "angle": 90, "align": "left", "baseline": "middle", "fontSize": 22, "color": "#1A1A1A", "dx": 3, "dy": -3}}
  ]},
  {"width": 1, "height": 1, "data": {"values": [{}]}, "mark": {"type": "point", "opacity": 0, "size": 0, "filled": true, "strokeWidth": 0}},
  {"width": 482, "height": 277, "view": {"stroke": "#333333"}, "layer": [
    {"data": {"name": "vR10"}, "mark": {"type": "area", "orient": "horizontal", "interpolate": "monotone", "stroke": "#333333", "strokeWidth": 1.1, "opacity": 1},
     "encoding": {
       "y": {"field": "y", "type": "quantitative", "scale": {"domain": [0, 1.02], "nice": false, "zero": false}, "axis": {"values": [0,0.125,0.25,0.375,0.5,0.625,0.75,0.875,1], "labelExpr": "datum.value * 4 % 1 === 0 ? format(datum.value, '.2f') : ''", "tickOpacity": {"condition": {"test": "datum.value * 4 % 1 !== 0", "value": 0}, "value": 1}, "gridWidth": {"condition": {"test": "datum.value * 4 % 1 !== 0", "value": 0.6}, "value": 1.2}, "title": "Variance", "titleY": 281, "titlePadding": 8}},
       "x": {"field": "lo", "type": "quantitative", "stack": null, "scale": {"domain": [0.4, 4.6], "nice": false, "zero": false}, "axis": {"values": [1,2,3,4], "labels": false, "ticks": false, "title": null, "gridWidth": 1.2}},
       "x2": {"field": "hi"},
       "color": {"field": "c", "type": "nominal", "scale": {"domain": ["M","P","φ1","φ2"], "range": ["#7A7A7A","#D47B7B","#D47B7B","#D47B7B"]}, "legend": null}
     }},
    {"data": {"name": "mR10"}, "mark": {"type": "circle", "color": "#BEBEBE", "size": 55, "opacity": 1}, "encoding": {"x": {"field": "i", "type": "quantitative"}, "y": {"field": "med", "type": "quantitative"}}},
    {"data": {"name": "mR10"}, "mark": {"type": "point", "shape": "M-1,-1L1,1M-1,1L1,-1", "filled": false, "stroke": "black", "strokeWidth": 1.2, "size": 130, "opacity": 1}, "encoding": {"x": {"field": "i", "type": "quantitative"}, "y": {"field": "mean", "type": "quantitative"}}}
  ]},
  {"width": 41, "height": 277, "view": {"fill": "#D9D9D9", "stroke": "#333333"}, "data": {"values": [{}]}, "layer": [
    {"mark": {"type": "text", "text": "N", "angle": 90, "align": "left", "baseline": "middle", "fontSize": 22, "color": "#1A1A1A", "dx": -42, "dy": -3}},
    {"mark": {"type": "text", "text": "env", "angle": 90, "align": "left", "baseline": "middle", "fontSize": 15, "color": "#1A1A1A", "dx": -26, "dy": 6}},
    {"mark": {"type": "text", "text": "= 10", "angle": 90, "align": "left", "baseline": "middle", "fontSize": 22, "color": "#1A1A1A", "dx": 3, "dy": -3}}
  ]},

  {"width": 482, "height": 277, "view": {"stroke": "#333333"}, "layer": [
    {"data": {"name": "vL4"}, "mark": {"type": "area", "orient": "horizontal", "interpolate": "monotone", "stroke": "#333333", "strokeWidth": 1.1, "opacity": 1},
     "encoding": {
       "y": {"field": "y", "type": "quantitative", "scale": {"domain": [-0.055, 1.035], "nice": false, "zero": false}, "axis": {"values": [0,0.125,0.25,0.375,0.5,0.625,0.75,0.875,1], "labelExpr": "datum.value * 4 % 1 === 0 ? format(datum.value, '.2f') : ''", "tickOpacity": {"condition": {"test": "datum.value * 4 % 1 !== 0", "value": 0}, "value": 1}, "gridWidth": {"condition": {"test": "datum.value * 4 % 1 !== 0", "value": 0.6}, "value": 1.2}, "title": null}},
       "x": {"field": "lo", "type": "quantitative", "stack": null, "scale": {"domain": [0.4, 4.6], "nice": false, "zero": false}, "axis": {"values": [1,2,3,4], "labels": false, "ticks": true, "title": "Component", "titlePadding": 40, "gridWidth": 1.2}},
       "x2": {"field": "hi"},
       "color": {"field": "c", "type": "nominal", "scale": {"domain": ["M","P","φ1","φ2"], "range": ["#7A7A7A","#D47B7B","#D47B7B","#D47B7B"]}, "legend": null}
     }},
    {"data": {"name": "mL4"}, "mark": {"type": "circle", "color": "#BEBEBE", "size": 55, "opacity": 1}, "encoding": {"x": {"field": "i", "type": "quantitative"}, "y": {"field": "med", "type": "quantitative"}}},
    {"data": {"name": "mL4"}, "mark": {"type": "point", "shape": "M-1,-1L1,1M-1,1L1,-1", "filled": false, "stroke": "black", "strokeWidth": 1.2, "size": 130, "opacity": 1}, "encoding": {"x": {"field": "i", "type": "quantitative"}, "y": {"field": "mean", "type": "quantitative"}}},
    {"data": {"values": [{}]}, "encoding": {"x": {"datum": 1, "type": "quantitative"}, "y": {"datum": -0.055, "type": "quantitative"}}, "layer": [
      {"mark": {"type": "text", "text": "M", "fontSize": 22, "align": "center", "dx": -12, "dy": 28, "color": "#4D4D4D"}},
      {"mark": {"type": "text", "text": "2", "fontSize": 14, "align": "center", "dx": 3, "dy": 13, "color": "#4D4D4D"}},
      {"mark": {"type": "text", "text": "Plas", "fontSize": 15, "align": "center", "dx": 12, "dy": 34, "color": "#4D4D4D"}}
    ]},
    {"data": {"values": [{}]}, "encoding": {"x": {"datum": 2, "type": "quantitative"}, "y": {"datum": -0.055, "type": "quantitative"}}, "layer": [
      {"mark": {"type": "text", "text": "P", "fontSize": 22, "align": "center", "dx": -8, "dy": 28, "color": "#4D4D4D"}},
      {"mark": {"type": "text", "text": "2", "fontSize": 14, "align": "center", "dx": 4, "dy": 13, "color": "#4D4D4D"}},
      {"mark": {"type": "text", "text": "RN", "fontSize": 15, "align": "center", "dx": 10, "dy": 34, "color": "#4D4D4D"}}
    ]},
    {"data": {"values": [{}]}, "encoding": {"x": {"datum": 3, "type": "quantitative"}, "y": {"datum": -0.055, "type": "quantitative"}}, "layer": [
      {"mark": {"type": "text", "text": "φ", "fontSize": 22, "align": "center", "dx": -2, "dy": 28, "color": "#4D4D4D"}},
      {"mark": {"type": "text", "text": "1", "fontSize": 15, "align": "center", "dx": 9, "dy": 28, "color": "#4D4D4D"}}
    ]},
    {"data": {"values": [{}]}, "encoding": {"x": {"datum": 4, "type": "quantitative"}, "y": {"datum": -0.055, "type": "quantitative"}}, "layer": [
      {"mark": {"type": "text", "text": "φ", "fontSize": 22, "align": "center", "dx": -2, "dy": 28, "color": "#4D4D4D"}},
      {"mark": {"type": "text", "text": "2", "fontSize": 15, "align": "center", "dx": 9, "dy": 28, "color": "#4D4D4D"}}
    ]}
  ]},
  {"width": 41, "height": 277, "view": {"fill": "#D9D9D9", "stroke": "#333333"}, "data": {"values": [{}]}, "layer": [
    {"mark": {"type": "text", "text": "N", "angle": 90, "align": "left", "baseline": "middle", "fontSize": 22, "color": "#1A1A1A", "dx": -37, "dy": -3}},
    {"mark": {"type": "text", "text": "env", "angle": 90, "align": "left", "baseline": "middle", "fontSize": 15, "color": "#1A1A1A", "dx": -21, "dy": 6}},
    {"mark": {"type": "text", "text": "= 4", "angle": 90, "align": "left", "baseline": "middle", "fontSize": 22, "color": "#1A1A1A", "dx": 9, "dy": -3}}
  ]},
  {"width": 1, "height": 1, "data": {"values": [{}]}, "mark": {"type": "point", "opacity": 0, "size": 0, "filled": true, "strokeWidth": 0}},
  {"width": 482, "height": 277, "view": {"stroke": "#333333"}, "layer": [
    {"data": {"name": "vR4"}, "mark": {"type": "area", "orient": "horizontal", "interpolate": "monotone", "stroke": "#333333", "strokeWidth": 1.1, "opacity": 1},
     "encoding": {
       "y": {"field": "y", "type": "quantitative", "scale": {"domain": [0, 1.02], "nice": false, "zero": false}, "axis": {"values": [0,0.125,0.25,0.375,0.5,0.625,0.75,0.875,1], "labelExpr": "datum.value * 4 % 1 === 0 ? format(datum.value, '.2f') : ''", "tickOpacity": {"condition": {"test": "datum.value * 4 % 1 !== 0", "value": 0}, "value": 1}, "gridWidth": {"condition": {"test": "datum.value * 4 % 1 !== 0", "value": 0.6}, "value": 1.2}, "title": null}},
       "x": {"field": "lo", "type": "quantitative", "stack": null, "scale": {"domain": [0.4, 4.6], "nice": false, "zero": false}, "axis": {"values": [1,2,3,4], "labels": false, "ticks": true, "title": "Component", "titlePadding": 40, "gridWidth": 1.2}},
       "x2": {"field": "hi"},
       "color": {"field": "c", "type": "nominal", "scale": {"domain": ["M","P","φ1","φ2"], "range": ["#7A7A7A","#D47B7B","#D47B7B","#D47B7B"]}, "legend": null}
     }},
    {"data": {"name": "mR4"}, "mark": {"type": "circle", "color": "#BEBEBE", "size": 55, "opacity": 1}, "encoding": {"x": {"field": "i", "type": "quantitative"}, "y": {"field": "med", "type": "quantitative"}}},
    {"data": {"name": "mR4"}, "mark": {"type": "point", "shape": "M-1,-1L1,1M-1,1L1,-1", "filled": false, "stroke": "black", "strokeWidth": 1.2, "size": 130, "opacity": 1}, "encoding": {"x": {"field": "i", "type": "quantitative"}, "y": {"field": "mean", "type": "quantitative"}}},
    {"data": {"values": [{}]}, "encoding": {"x": {"datum": 1, "type": "quantitative"}, "y": {"datum": 0, "type": "quantitative"}}, "layer": [
      {"mark": {"type": "text", "text": "M", "fontSize": 22, "align": "center", "dx": -12, "dy": 28, "color": "#4D4D4D"}},
      {"mark": {"type": "text", "text": "2", "fontSize": 14, "align": "center", "dx": 3, "dy": 13, "color": "#4D4D4D"}},
      {"mark": {"type": "text", "text": "Plas", "fontSize": 15, "align": "center", "dx": 12, "dy": 34, "color": "#4D4D4D"}}
    ]},
    {"data": {"values": [{}]}, "encoding": {"x": {"datum": 2, "type": "quantitative"}, "y": {"datum": 0, "type": "quantitative"}}, "layer": [
      {"mark": {"type": "text", "text": "P", "fontSize": 22, "align": "center", "dx": -8, "dy": 28, "color": "#4D4D4D"}},
      {"mark": {"type": "text", "text": "2", "fontSize": 14, "align": "center", "dx": 4, "dy": 13, "color": "#4D4D4D"}},
      {"mark": {"type": "text", "text": "RN", "fontSize": 15, "align": "center", "dx": 10, "dy": 34, "color": "#4D4D4D"}}
    ]},
    {"data": {"values": [{}]}, "encoding": {"x": {"datum": 3, "type": "quantitative"}, "y": {"datum": 0, "type": "quantitative"}}, "layer": [
      {"mark": {"type": "text", "text": "φ", "fontSize": 22, "align": "center", "dx": -2, "dy": 28, "color": "#4D4D4D"}},
      {"mark": {"type": "text", "text": "1", "fontSize": 15, "align": "center", "dx": 9, "dy": 28, "color": "#4D4D4D"}}
    ]},
    {"data": {"values": [{}]}, "encoding": {"x": {"datum": 4, "type": "quantitative"}, "y": {"datum": 0, "type": "quantitative"}}, "layer": [
      {"mark": {"type": "text", "text": "φ", "fontSize": 22, "align": "center", "dx": -2, "dy": 28, "color": "#4D4D4D"}},
      {"mark": {"type": "text", "text": "2", "fontSize": 15, "align": "center", "dx": 9, "dy": 28, "color": "#4D4D4D"}}
    ]}
  ]},
  {"width": 41, "height": 277, "view": {"fill": "#D9D9D9", "stroke": "#333333"}, "data": {"values": [{}]}, "layer": [
    {"mark": {"type": "text", "text": "N", "angle": 90, "align": "left", "baseline": "middle", "fontSize": 22, "color": "#1A1A1A", "dx": -37, "dy": -3}},
    {"mark": {"type": "text", "text": "env", "angle": 90, "align": "left", "baseline": "middle", "fontSize": 15, "color": "#1A1A1A", "dx": -21, "dy": 6}},
    {"mark": {"type": "text", "text": "= 4", "angle": 90, "align": "left", "baseline": "middle", "fontSize": 22, "color": "#1A1A1A", "dx": 9, "dy": -3}}
  ]}
]
}
